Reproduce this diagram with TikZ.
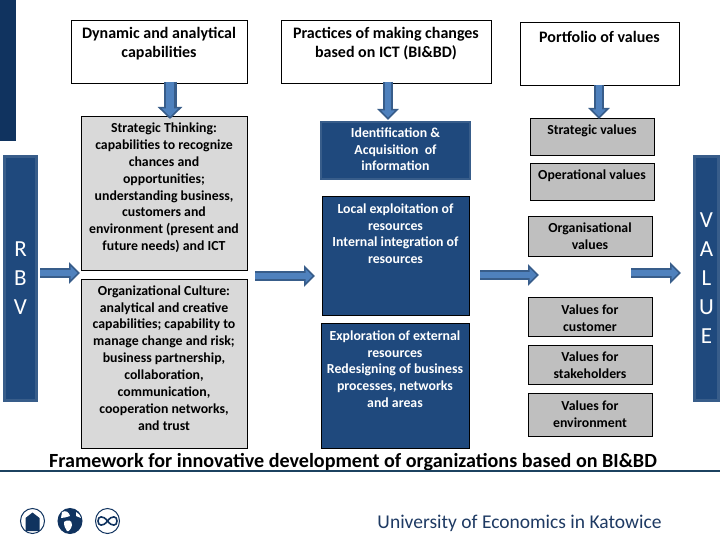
\documentclass[tikz,border=0pt]{standalone}
\usepackage{fontspec}
\setmainfont{Carlito}
\usetikzlibrary{arrows.meta}
\definecolor{navy}{HTML}{1F497D}
\definecolor{navyedge}{HTML}{385D8A}
\definecolor{deepnavy}{HTML}{10335F}
\definecolor{lightgrey}{HTML}{D9D9D9}
\definecolor{midgrey}{HTML}{BFBFBF}
\definecolor{arrowfill}{HTML}{4F81BD}
\definecolor{footerblue}{HTML}{1E3A63}
\definecolor{ruleblue}{HTML}{1C4260}
\tikzset{
  basebox/.style={inner sep=0pt,outer sep=0pt,line width=0.9pt,draw=black,font=\bfseries\fontsize{13.8}{16.85}\selectfont},
  whitebox/.style={basebox,fill=white,font=\bfseries\fontsize{16}{19}\selectfont},
  greybox/.style={basebox,fill=lightgrey},
  valbox/.style={basebox,fill=midgrey},
  bluebox/.style={basebox,fill=navy,text=white},
  blueedge/.style={bluebox,draw=navyedge,line width=2.6pt},
  sidebar/.style={inner sep=0pt,outer sep=0pt,fill=navy,draw=navyedge,line width=2.6pt,text=white,font=\fontsize{23}{29}\selectfont},
  blockarrow/.style={draw=navyedge,line width=10pt,-{Triangle[length=11pt,width=21pt,fill=navyedge]},
    postaction={draw=arrowfill,line width=5.5pt,-{Triangle[length=7pt,width=13pt,fill=arrowfill]},shorten >=2.5pt}},
  widearrow/.style={draw=navyedge,line width=13pt,-{Triangle[length=12pt,width=24pt,fill=navyedge]},
    postaction={draw=arrowfill,line width=8pt,-{Triangle[length=8pt,width=16pt,fill=arrowfill]},shorten >=2.5pt}},
}
\newcommand{\bx}[8]{%
  \pgfmathsetlengthmacro{\bw}{#5-#3}\pgfmathsetlengthmacro{\bh}{#6-#4}%
  \pgfmathsetmacro{\cx}{(#3+#5)/2}\pgfmathsetmacro{\cy}{(#4+#6)/2}%
  \pgfmathsetlengthmacro{\tw}{#5-#3-4}%
  \node[#2,minimum width=\bw,minimum height=\bh] (#1) at (\cx,\cy)
    {\parbox[c][\bh][t]{\tw}{\centering\vspace*{#7pt}#8\par}};}
\begin{document}
\begin{tikzpicture}[x=1pt,y=-1pt]
\useasboundingbox (0,0) rectangle (720,540);
% sidebars
\fill[deepnavy] (0,0) rectangle (16,141);
\node[sidebar,minimum width=32pt,minimum height=244pt,align=center] (rbv) at (20.5,278.5) {R\\B\\V};
\node[sidebar,minimum width=24pt,minimum height=244pt,align=center] (value) at (706.5,278.5) {V\\A\\L\\U\\E};
% headers
\bx{dyn}{whitebox}{71}{20}{247}{83}{7.5}{Dynamic and analytical\\capabilities}
\bx{prac}{whitebox}{281}{20}{491}{83}{7.5}{Practices of making changes\\based on ICT (BI\&BD)}
\bx{port}{whitebox}{520}{22}{679}{85}{9.5}{Portfolio of values}
% left column
\bx{strat}{greybox}{81}{116}{247}{270}{7}{Strategic Thinking:\\capabilities to recognize\\chances and\\opportunities;\\understanding business,\\customers and\\environment (present and\\future needs) and ICT}
\bx{cult}{greybox}{81}{279}{247}{448}{6.5}{Organizational Culture:\\analytical and creative\\capabilities; capability to\\manage change and risk;\\business partnership,\\collaboration,\\communication,\\cooperation networks,\\and trust}
% middle column
\bx{ident}{blueedge}{321}{122}{470}{179}{5.5}{Identification \&\\Acquisition\ \ of\\information}
\bx{local}{bluebox}{322}{196}{469}{315}{7.5}{Local exploitation of\\resources\\Internal integration of\\resources}
\bx{explo}{bluebox}{321}{323}{469}{448}{7.5}{Exploration of external\\resources\\Redesigning of business\\processes, networks\\and areas}
% right column
\bx{v1}{valbox}{530}{118}{654}{155}{6.5}{Strategic values}
\bx{v2}{valbox}{530}{163}{654}{200}{6.5}{Operational values}
\bx{v3}{valbox}{528}{216}{652}{256}{6.5}{Organisational\\values}
\bx{v4}{valbox}{528}{297}{652}{336}{7.5}{Values for\\customer}
\bx{v5}{valbox}{528}{345}{652}{384}{6.5}{Values for\\stakeholders}
\bx{v6}{valbox}{528}{393}{652}{436}{7.5}{Values for\\environment}
% arrows
\coordinate (d1) at (170,82);  \coordinate (d2) at (170,119);
\coordinate (p1) at (388,82);  \coordinate (p2) at (388,120);
\coordinate (q1) at (599,85);  \coordinate (q2) at (599,119);
\coordinate (r1) at (40,273);  \coordinate (r2) at (80,273);
\coordinate (m1) at (255,276); \coordinate (m2) at (315,276);
\coordinate (n1) at (480,275); \coordinate (n2) at (539,275);
\coordinate (o1) at (631,273); \coordinate (o2) at (681,273);
\draw[widearrow] (d1) -- (d2);
\draw[blockarrow] (p1) -- (p2);
\draw[blockarrow] (q1) -- (q2);
\draw[blockarrow] (r1) -- (r2);
\draw[blockarrow] (m1) -- (m2);
\draw[blockarrow] (n1) -- (n2);
\draw[blockarrow] (o1) -- (o2);
% caption
\node[inner sep=0pt,font=\bfseries\fontsize{20.1}{24}\selectfont] (title) at (353,462) {Framework for innovative development of organizations based on BI\&BD};
% footer
\draw[ruleblue,line width=1.4pt] (0,471) -- (720,471);
\node[inner sep=0pt,text=footerblue,font=\fontsize{19.5}{24}\selectfont] (uni) at (519.5,523) {University of Economics in Katowice};
% icons
\draw[deepnavy,line width=1pt,fill=white] (32.5,521) ellipse (12 and 12.5);
\fill[deepnavy] (25.5,531) -- (25.5,518) -- (32.5,512.5) -- (39.5,518) -- (39.5,531) -- cycle;
\draw[deepnavy,line width=1pt,fill=deepnavy] (70,521) ellipse (12 and 12.5);
\fill[white] (62,512) .. controls (66,510) and (69,512) .. (70,516) .. controls (67,517) and (64,518) .. (61,518) -- cycle;
\fill[white] (64,522) .. controls (68,519) and (72,520) .. (72,525) .. controls (71,529) and (69,532) .. (67,531) .. controls (65,528) and (64,526) .. (64,522) -- cycle;
\fill[white] (76,512) .. controls (79,514) and (81,516) .. (81,518) -- (76,516) -- cycle;
\draw[deepnavy,line width=1pt,fill=white] (107.5,521) ellipse (12 and 12.5);
\draw[deepnavy,line width=1.6pt] (107.5,521) .. controls (103,515) and (98,516) .. (98,521) .. controls (98,526) and (103,527) .. (107.5,521) .. controls (112,515) and (117,516) .. (117,521) .. controls (117,526) and (112,527) .. (107.5,521) -- cycle;
\end{tikzpicture}
\end{document}
